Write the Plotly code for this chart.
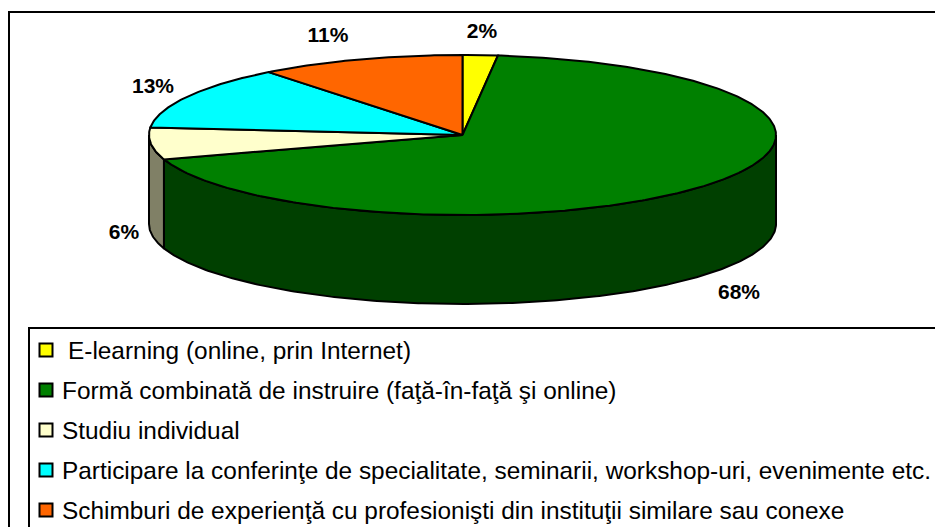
import numpy as np
import plotly.graph_objects as go

categories = [
    " E-learning (online, prin Internet)",
    "Formă combinată de instruire (faţă-în-faţă şi online)",
    "Studiu individual",
    "Participare la conferinţe de specialitate, seminarii, workshop-uri, evenimente etc.",
    "Schimburi de experienţă cu profesionişti din instituţii similare sau conexe",
]
values = [1.8, 68.2, 6.4, 12.9, 10.6]
top_colors = ["#FFFF00", "#008000", "#FFFFCC", "#00FFFF", "#FF6600"]
side_colors = ["#808000", "#004000", "#808066", "#008080", "#803300"]
label_xy = [(482, 33), (739, 294), (124, 234), (153, 88), (328, 37)]
legend_text_x = [66, 60, 60, 60, 60]

W, H = 935, 527
CX, CY, RX, RY, DEPTH = 462.5, 135, 313.5, 80, 89
LEGEND_X, LEGEND_Y0, LEGEND_DY = 46, 350, 40

fig = go.Figure()
share = np.array(values) / sum(values) * 2 * np.pi
ends = np.cumsum(share)
starts = ends - share


def arc(a, b, dy=0.0):
    t = np.linspace(a, b, max(2, int((b - a) * 90)))
    return CX + RX * np.sin(t), CY + dy - RY * np.cos(t)


def poly(x, y, color):
    fig.add_trace(go.Scatter(x=x, y=y, mode="lines", fill="toself", fillcolor=color,
                             line=dict(color="black", width=2), hoverinfo="skip",
                             showlegend=False))


# side walls: only the part of each slice on the front half of the rim
for a, b, c in zip(starts, ends, side_colors):
    lo, hi = max(a, np.pi / 2), min(b, 3 * np.pi / 2)
    if hi > lo:
        x1, y1 = arc(lo, hi)
        x2, y2 = arc(lo, hi, DEPTH)
        poly(np.r_[x1, x2[::-1], x1[0]], np.r_[y1, y2[::-1], y1[0]], c)

# top faces
for a, b, c in zip(starts, ends, top_colors):
    x, y = arc(a, b)
    poly(np.r_[CX, x, CX], np.r_[CY, y, CY], c)

# percentage labels
fig.add_trace(go.Scatter(
    x=[p[0] for p in label_xy], y=[p[1] for p in label_xy], mode="text",
    text=[f"<b>{round(v)}%</b>" for v in values], textposition="middle center",
    textfont=dict(family="Liberation Sans", size=21, color="black"),
    hoverinfo="skip", showlegend=False))

# legend swatches and entries
rows = [LEGEND_Y0 + i * LEGEND_DY for i in range(len(categories))]
fig.add_trace(go.Scatter(
    x=[LEGEND_X] * len(rows), y=rows, mode="markers",
    marker=dict(symbol="square", size=13, color=top_colors, line=dict(color="black", width=2)),
    hoverinfo="skip", showlegend=False))
for name, tx, ry in zip(categories, legend_text_x, rows):
    fig.add_annotation(x=tx, y=ry, text=name.strip(), showarrow=False, xanchor="left",
                       yanchor="middle", xshift=0,
                       font=dict(family="Liberation Sans", size=24.4, color="black"))

fig.update_layout(
    width=W, height=H, margin=dict(l=0, r=0, t=0, b=0), autosize=False,
    paper_bgcolor="white", plot_bgcolor="white", showlegend=False,
    xaxis=dict(range=[0, W], visible=False, fixedrange=True),
    yaxis=dict(range=[H, 0], visible=False, fixedrange=True),
    shapes=[
        dict(type="rect", x0=9, y0=12, x1=W + 20, y1=H + 20, line=dict(color="black", width=2), layer="below"),
        dict(type="rect", x0=29, y0=328, x1=W + 20, y1=H + 20, line=dict(color="black", width=2), layer="below"),
    ],
)
fig.write_html("out.html", config={"displayModeBar": False},
               post_script="document.body.style.margin='0';document.documentElement.style.overflow='hidden';")
